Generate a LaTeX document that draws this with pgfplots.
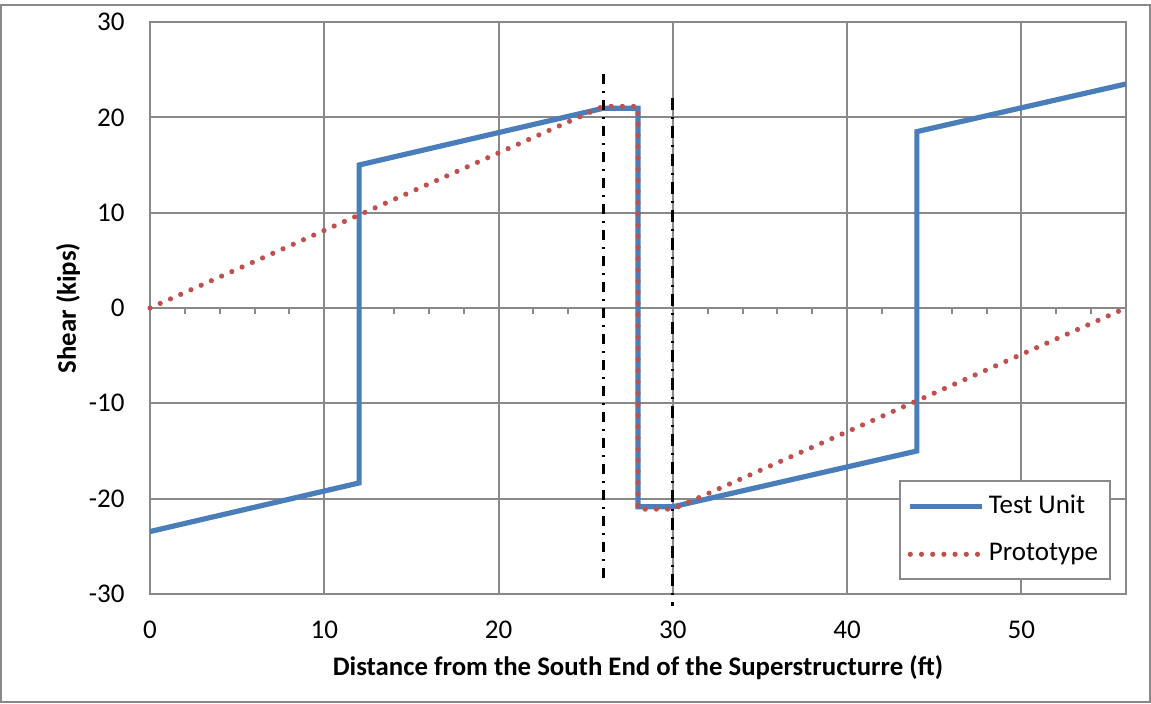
\documentclass[border=0pt]{standalone}
\usepackage{pgfplots}
\pgfplotsset{compat=1.18}
\usepackage{fontspec}
\setmainfont{Carlito}
\definecolor{tblue}{HTML}{4A7EBB}
\definecolor{pred}{HTML}{C0504D}
\definecolor{gridc}{HTML}{898989}
\begin{document}
\fontsize{13.5}{16}\selectfont
\begin{tikzpicture}[x=1pt,y=1pt]
\path (-75,-55) rectangle (500.5,297);
\draw[gridc, line width=1pt] (-74.5,-54) rectangle (500,294.5);
\begin{axis}[
  at={(0,0)}, anchor=south west,
  scale only axis, width=488pt, height=286pt,
  xmin=0, xmax=56, ymin=-30, ymax=30,
  xtick={0,10,...,50}, ytick={-30,-20,...,30},
  grid=major, major grid style={gridc, line width=1pt},
  axis line style={gridc, line width=1pt},
  major tick length=0pt,
  /pgf/number format/assume math mode=true,
  tick label style={font=\fontsize{13.5}{16}\selectfont, text=black},
  xticklabel style={yshift=-9pt},
  yticklabel style={xshift=-8pt},
  xlabel={\textbf{Distance from the South End of the Superstructurre (ft)}},
  ylabel={\textbf{Shear (kips)}},
  label style={font=\fontsize{13.4}{16}\selectfont},
  xlabel style={at={(axis description cs:0.5,0)}, anchor=center, yshift=-37pt},
  ylabel style={at={(axis description cs:0,0.5)}, anchor=center, yshift=41pt},
  clip=false,
  legend cell align=left,
  legend style={at={(0.9846,0.0245)}, anchor=south east, draw=gridc, line width=1pt,
    font=\fontsize{13.5}{16}\selectfont, inner xsep=4pt, inner ysep=5pt, row sep=9pt},
  legend image code/.code={\draw[#1] (0pt,0pt) -- (36pt,0pt);},
]
\pgfplotsinvokeforeach{2,4,...,54}{\draw[gridc, line width=1pt] (axis cs:#1,0) -- ([yshift=-3pt]axis cs:#1,0);}
\addplot[tblue, line width=2.6pt] coordinates {(0,-23.45) (12,-18.35) (12,15) (26,20.95) (28,20.95) (28,-20.85) (30,-20.85) (44,-15) (44,18.5) (56,23.5)};
\addlegendentry{Test Unit}
\addplot[pred, line width=2.6pt, line cap=round, dash pattern=on 0pt off 5.6pt] coordinates {(0,0) (26,21.15) (28,21.15) (28,-21.1) (30,-21.1) (56,0)};
\addlegendentry{Prototype}
\addplot[black, line width=1.4pt, dash pattern=on 5pt off 3.5pt on 1pt off 3.5pt, forget plot] coordinates {(26,24.5) (26,-28.7)};
\addplot[black, line width=1.4pt, dash pattern=on 6pt off 3.5pt on 1pt off 3.5pt, forget plot] coordinates {(30,22) (30,-31.3)};
\end{axis}
\end{tikzpicture}
\end{document}
